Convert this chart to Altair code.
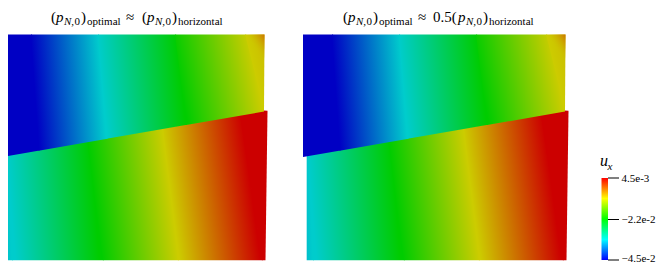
import altair as alt
import pandas as pd

# colour levels of the field (u_x) as shown on the shaded mesh
BLUE = (0, 0, 196)
CYAN = (0, 204, 204)
GREEN = (0, 204, 0)
YELLOW = (204, 204, 0)
RED = (204, 0, 0)
FAR_BLUE = (0, 60, 200)

# upper block: outline, contour x at y=34 and at y=157
upper_outline_x = [2, 264.5, 264, 2]
upper_outline_y = [34.5, 34.5, 111.5, 157]
upper_colors = [BLUE, BLUE, CYAN, GREEN, YELLOW, RED]
upper_x_top = [-20, 31, 98, 175, 245, 480]
upper_x_bot = [-20, 39, 108, 190, 276, 511]
upper_rows = (34, 157)

# orange corner at the top right of the upper block
corner_x = [246, 264.5, 264.5]
corner_y = [34.5, 34.5, 62]

# lower block: outline, contour x at y=111 and at y=260
lower_outline_x = [267.5, 265.5, 5.7, 5.7, 264]
lower_outline_y = [110.8, 260.2, 260.2, 155.5, 110.6]
lower_colors = [FAR_BLUE, CYAN, GREEN, YELLOW, RED, RED]
lower_x_top = [-60, 6, 83, 161, 239, 330]
lower_x_bot = [-54, 12, 103, 178, 262, 350]
lower_rows = (110, 261)

# second panel sits to the right of the first
panel_offsets = [0, 301]

# colour bar
bar_stops = [(0, "#ff0000"), (0.25, "#ffff00"), (0.5, "#00ff00"), (0.75, "#00ffff"), (1, "#0000ff")]
bar_x = (601.5, 608)
bar_y = (178, 260)
tick_y = [178, 219.5, 260]
tick_x = (608, 619)
tick_labels = ["4.5e-3", "\u22122.2e-2", "\u22124.5e-2"]
tick_label_base = [182, 223, 262]

# text runs: x, baseline y, text, size, italic
T, S = 21.5, 24.5
runs = [
    (51, T, "(", 15, 0), (56, T, "p", 15, 1), (64, S, "N,", 11, 1), (74.5, S, "0", 11, 0),
    (81, T, ")", 15, 0), (87, S, "optimal", 11, 0), (126, T, "\u2248", 15, 0),
    (142, T, "(", 15, 0), (147, T, "p", 15, 1), (155, S, "N,", 11, 1), (165.5, S, "0", 11, 0),
    (172, T, ")", 15, 0), (178, S, "horizontal", 11, 0),
    (343, T, "(", 15, 0), (348, T, "p", 15, 1), (356, S, "N,", 11, 1), (366.5, S, "0", 11, 0),
    (373, T, ")", 15, 0), (379, S, "optimal", 11, 0), (418, T, "\u2248", 15, 0),
    (433, T, "0.5(", 15, 0), (458, T, "p", 15, 1), (466, S, "N,", 11, 1), (476.5, S, "0", 11, 0),
    (483, T, ")", 15, 0), (489, S, "horizontal", 11, 0),
    (600, 165.5, "u", 16, 1), (607.5, 170, "x", 11, 1),
]

W, H = 664, 265
X = alt.X("x:Q", scale=alt.Scale(domain=[0, W], range=[0, W], nice=False, zero=False), axis=None)
Y = alt.Y("y:Q", scale=alt.Scale(domain=[0, H], range=[0, H], nice=False, zero=False), axis=None)


def clip(poly, outline):
    """Clip polygon to a convex outline."""
    n = len(outline)
    area = sum(outline[i][0] * outline[(i + 1) % n][1] - outline[(i + 1) % n][0] * outline[i][1] for i in range(n))
    sign = 1 if area > 0 else -1
    out = poly
    for i in range(n):
        a, b = outline[i], outline[(i + 1) % n]
        side = lambda p: sign * ((b[0] - a[0]) * (p[1] - a[1]) - (b[1] - a[1]) * (p[0] - a[0]))
        res = []
        for j in range(len(out)):
            p, q = out[j], out[(j + 1) % len(out)]
            sp, sq = side(p), side(q)
            if sp >= 0:
                res.append(p)
            if sp * sq < 0:
                f = sp / (sp - sq)
                res.append((p[0] + f * (q[0] - p[0]), p[1] + f * (q[1] - p[1])))
        out = res
        if not out:
            break
    return out


def rgb(c):
    return "#%02x%02x%02x" % c


def polygon(xs, ys, fill):
    df = pd.DataFrame({"x": xs, "y": ys, "i": range(len(xs))})
    return (
        alt.Chart(df).mark_line(fill=fill, stroke="transparent", strokeWidth=0)
        .encode(x=X, y=Y, order=alt.Order("i:Q"))
    )


def block(outline_x, outline_y, colors, xtop, xbot, rows, dx):
    layers = []
    outline = [(x + dx, y) for x, y in zip(outline_x, outline_y)]
    r0, r1 = rows
    ym = (r0 + r1) / 2
    for k in range(len(colors) - 1):
        a0, a1 = xtop[k] + dx, xbot[k] + dx
        b0, b1 = xtop[k + 1] + dx, xbot[k + 1] + dx
        poly = clip([(a0, r0), (b0 + 1, r0), (b1 + 1, r1), (a1, r1)], outline)
        if len(poly) < 3:
            continue
        xs = [p[0] for p in poly]
        ys = [p[1] for p in poly]
        xmin, ymin = min(xs), min(ys)
        w, h = max(max(xs) - xmin, 1e-3), max(max(ys) - ymin, 1e-3)
        s = ((a1 - a0) + (b1 - b0)) / 2 / (r1 - r0)
        ca = (a0 + a1) / 2
        D = (b0 + b1) / 2 - ca
        A = w / D
        B = -s * h / D
        C = (xmin - s * (ymin - ym) - ca) / D
        norm = A * A + B * B
        u0, v0 = -C * A / norm, -C * B / norm
        grad = alt.LinearGradient(
            gradient="linear",
            x1=u0, y1=v0, x2=u0 + A / norm, y2=v0 + B / norm,
            stops=[
                alt.GradientStop(offset=0, color=rgb(colors[k])),
                alt.GradientStop(offset=1, color=rgb(colors[k + 1])),
            ],
        )
        layers.append(polygon(xs, ys, grad))
    return layers


corner_grad = alt.LinearGradient(
    gradient="linear", x1=0.5, y1=0.5, x2=1, y2=0,
    stops=[
        alt.GradientStop(offset=0, color="rgba(204,190,0,0)"),
        alt.GradientStop(offset=1, color="rgba(204,115,0,1)"),
    ],
)

layers = []
for dx in panel_offsets:
    layers += block(lower_outline_x, lower_outline_y, lower_colors, lower_x_top, lower_x_bot, lower_rows, dx)
    layers += block(upper_outline_x, upper_outline_y, upper_colors, upper_x_top, upper_x_bot, upper_rows, dx)
    layers.append(polygon([x + dx for x in corner_x], corner_y, corner_grad))

# colour bar
bar_df = pd.DataFrame({"x": [bar_x[0]], "x2": [bar_x[1]], "y": [bar_y[0]], "y2": [bar_y[1]]})
bar_grad = alt.LinearGradient(
    gradient="linear", x1=0, y1=0, x2=0, y2=1,
    stops=[alt.GradientStop(offset=o, color=c) for o, c in bar_stops],
)
layers.append(alt.Chart(bar_df).mark_rect(fill=bar_grad).encode(x=X, x2="x2:Q", y=Y, y2="y2:Q"))

tick_df = pd.DataFrame({"x": tick_x[0], "x2": tick_x[1], "y": tick_y})
layers.append(alt.Chart(tick_df).mark_rule(color="#000000", strokeWidth=1).encode(x=X, x2="x2:Q", y=Y))

label_df = pd.DataFrame({"x": 621.5, "y": tick_label_base, "t": tick_labels})
layers.append(
    alt.Chart(label_df).mark_text(align="left", baseline="alphabetic", font="Liberation Serif", fontSize=11, color="#000000")
    .encode(x=X, y=Y, text="t:N")
)

run_df = pd.DataFrame(runs, columns=["x", "y", "t", "s", "it"])
for it, style in [(0, "normal"), (1, "italic")]:
    layers.append(
        alt.Chart(run_df[run_df.it == it]).mark_text(
            align="left", baseline="alphabetic", font="Liberation Serif", fontStyle=style, color="#000000"
        ).encode(x=X, y=Y, text="t:N", size=alt.Size("s:Q", scale=None, legend=None))
    )

chart = alt.layer(*layers).properties(
    width=W, height=H,
    padding={"left": -8, "top": -8, "right": -8, "bottom": 0},
    autosize=alt.AutoSizeParams(type="none"),
    background="white",
).configure_view(stroke=None)

chart.save("out.html", embed_options={"renderer": "svg", "actions": False})
